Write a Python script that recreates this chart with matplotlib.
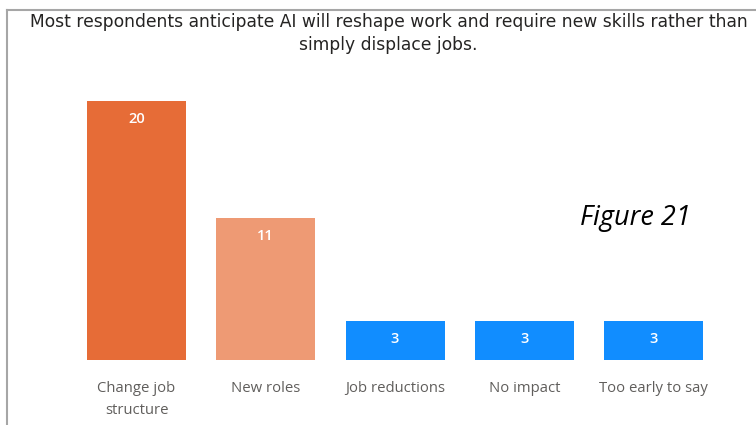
import matplotlib.pyplot as plt
from matplotlib.lines import Line2D

categories = ["Change job\nstructure", "New roles", "Job reductions", "No impact", "Too early to say"]
counts = [20, 11, 3, 3, 3]
bar_colors = ["#E66C37", "#EE9A74", "#118DFF", "#118DFF", "#118DFF"]

title = "Most respondents anticipate AI will reshape work and require new skills rather than\nsimply displace jobs."

fig = plt.figure(figsize=(7.56, 4.25), dpi=100)
ax = fig.add_axes([0.0951, 0.1529, 0.8548, 0.6094])

x = range(len(categories))
bars = ax.bar(x, counts, width=0.766, color=bar_colors)

# value labels sit just inside the top of each bar
for b, v in zip(bars, counts):
    ax.annotate(str(v), (b.get_x() + b.get_width() / 2, b.get_height()),
                xytext=(0, -13), textcoords="offset points",
                ha="center", va="center", color="white",
                fontsize=10.5, fontweight="semibold", family=["Open Sans", "DejaVu Sans"])

ax.set_xlim(-0.5, len(categories) - 0.5)
ax.set_ylim(0, 20)
ax.set_xticks(list(x))
ax.set_xticklabels(categories, fontsize=10.7, color="#605E5C", family=["Open Sans", "DejaVu Sans"],
                   linespacing=1.65)
ax.tick_params(axis="x", length=0, pad=15)
ax.set_yticks([])
for s in ax.spines.values():
    s.set_visible(False)

fig.text(0.514, 0.921, title, ha="center", va="center", fontsize=12.3,
         color="#252423", linespacing=1.35, family=["DejaVu Sans"])

fig.text(0.841, 0.487, "Figure 21", ha="center", va="center", fontsize=19.5,
         style="italic", color="black", family=["Open Sans", "DejaVu Sans"])

# grey frame along the top and left edge
fig.add_artist(Line2D([7 / 756, 1.0], [1 - 10 / 425, 1 - 10 / 425], color="#A6A6A6", lw=1.5,
                      transform=fig.transFigure))
fig.add_artist(Line2D([7 / 756, 7 / 756], [0, 1 - 10 / 425], color="#A6A6A6", lw=1.5,
                      transform=fig.transFigure))

fig.savefig("out.png", dpi=100)
